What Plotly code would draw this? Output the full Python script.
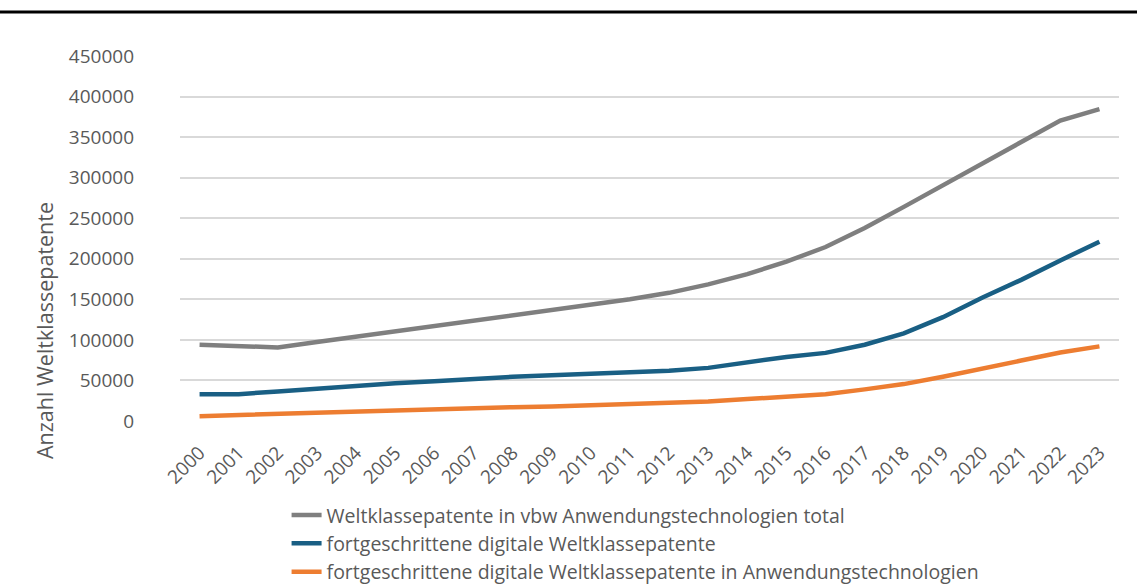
import plotly.graph_objects as go

years = [str(y) for y in range(2000, 2024)]
total_vbw = [94000, 92500, 90700, 97500, 104000, 110000, 117000, 123000, 130500, 137000,
             143500, 150000, 158000, 168500, 181000, 196500, 214500, 238000, 264000, 290500,
             316500, 342500, 370500, 384500]
digital_all = [33000, 33000, 36500, 40000, 43500, 46500, 49000, 52000, 54500, 56500,
               58000, 59500, 62000, 65500, 72000, 79000, 84000, 94000, 108000, 128000,
               152000, 174000, 198000, 221000]
digital_anw = [6000, 7500, 8000, 9500, 11000, 12500, 14000, 15500, 17000, 18000,
               19500, 20000, 21500, 24000, 27000, 30000, 33000, 39000, 45500, 54500,
               64000, 74500, 84500, 92000]
names = ["Weltklassepatente in vbw Anwendungstechnologien total",
         "fortgeschrittene digitale Weltklassepatente",
         "fortgeschrittene digitale Weltklassepatente in Anwendungstechnologien"]
colors = ["#7f7f7f", "#195f84", "#ed7d31"]
y_ticks = list(range(0, 450001, 50000))
y_title = "Anzahl Weltklassepatente"

FONT = "Open Sans"
TXT = "#595959"

fig = go.Figure()
for name, vals, col in zip(names, [total_vbw, digital_all, digital_anw], colors):
    fig.add_trace(go.Scatter(x=years, y=vals, mode="lines", name=name,
                             line=dict(color=col, width=4.5)))

fig.update_layout(
    width=1137, height=586,
    margin=dict(l=180, r=18, t=56, b=165, autoexpand=False),
    paper_bgcolor="white", plot_bgcolor="white",
    font=dict(family=FONT, size=19, color=TXT),
    showlegend=True,
    legend=dict(orientation="v", x=0.1135, xanchor="left", y=-0.205, yanchor="top",
                font=dict(family=FONT, size=19.5, color=TXT),
                tracegroupgap=0, itemwidth=30, bgcolor="rgba(0,0,0,0)"),
)
fig.update_xaxes(type="category", range=[-0.5, len(years) - 0.5], tickangle=-45,
                 showgrid=False, showline=False, ticks="", ticklabelstandoff=16,
                 tickfont=dict(family=FONT, size=19, color=TXT))
fig.update_yaxes(range=[0, 450000], tickvals=y_ticks, ticktext=[str(v) for v in y_ticks],
                 showgrid=True, gridcolor="#d9d9d9", gridwidth=1.5, zeroline=False,
                 showline=False, ticks="", ticklabelstandoff=45,
                 tickfont=dict(family=FONT, size=19, color=TXT))
fig.add_annotation(text=y_title, textangle=-90, xref="paper", yref="paper",
                   x=-0.1436, y=0.247, xanchor="center", yanchor="middle", showarrow=False,
                   font=dict(family=FONT, size=21.5, color=TXT))
fig.add_shape(type="line", xref="paper", yref="paper", x0=-0.25, x1=1.1, y0=1.1205, y1=1.1205,
              line=dict(color="black", width=3))
fig.write_html("out.html", config={"displayModeBar": False},
               post_script="document.body.style.margin='0px';")
